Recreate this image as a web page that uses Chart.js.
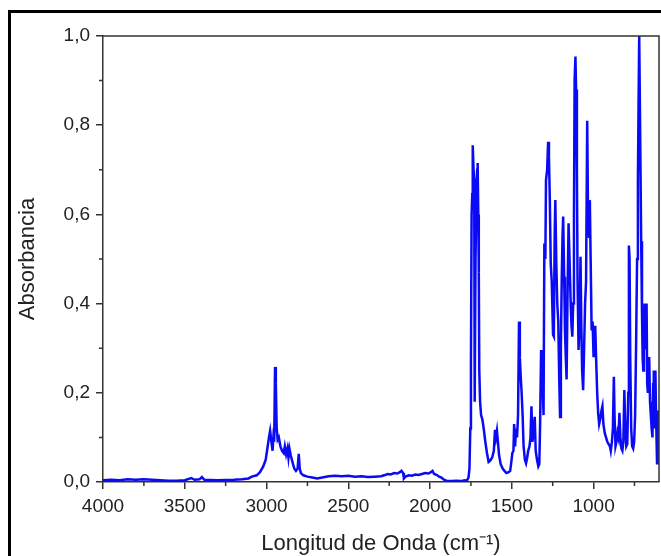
<!DOCTYPE html>
<html lang="es">

<head>
  <meta charset="UTF-8" />
  <title>Espectro FTIR - Absorbancia</title>
  <script src="https://cdn.jsdelivr.net/npm/chart.js"></script>
  <style>
    html,
    body {
      margin: 0;
      padding: 0;
      background: #fff;
      overflow: hidden;
    }

    #wrap {
      position: relative;
      width: 661px;
      height: 556px;
    }

    #spectrum {
      position: absolute;
      left: 0;
      top: 0;
    }

    /* outer frame of the figure, cut off on the right and bottom */
    .frame {
      position: absolute;
      left: 8px;
      top: 10px;
      width: 700px;
      height: 600px;
      border-left: 3px solid #000;
      border-top: 3px solid #000;
      pointer-events: none;
    }
  </style>
</head>

<body>
  <div id="wrap">
    <canvas id="spectrum" width="661" height="556"></canvas>
    <div class="frame"></div>
  </div>

  <script>
    // Wavenumber (cm-1) and absorbance
    const wavenumbers = [
      4000, 3950, 3900, 3850, 3800, 3750, 3700, 3650, 3600, 3550, 3500, 3460, 3440, 3410, 3395, 3380, 3300, 3200,
      3150, 3110, 3090, 3060, 3040, 3020, 3005, 2995, 2985, 2978, 2970, 2963, 2958, 2953, 2948, 2943, 2938, 2932,
      2925, 2915, 2905, 2895, 2888, 2880, 2872, 2866, 2860, 2852, 2845, 2838, 2830, 2820, 2810, 2803, 2797, 2790,
      2775, 2750, 2720, 2690, 2660, 2620, 2580, 2540, 2500, 2460, 2420, 2380, 2340, 2300, 2280, 2260, 2240, 2220,
      2200, 2185, 2175, 2165, 2160, 2150, 2130, 2110, 2090, 2070, 2050, 2030, 2010, 1995, 1985, 1975, 1960, 1945,
      1930, 1915, 1900, 1870, 1840, 1810, 1790, 1775, 1765, 1759, 1754, 1750, 1746, 1742, 1739, 1734, 1730, 1727,
      1722, 1716, 1712, 1709, 1705, 1702, 1699, 1694, 1688, 1680, 1672, 1662, 1652, 1642, 1632, 1620, 1610, 1603,
      1597, 1591, 1585, 1578, 1568, 1556, 1545, 1533, 1520, 1510, 1503, 1497, 1490, 1486, 1480, 1474, 1468, 1462,
      1456, 1451, 1446, 1440, 1434, 1428, 1420, 1413, 1406, 1400, 1392, 1386, 1380, 1374, 1368, 1360, 1354, 1346,
      1338, 1332, 1327, 1321, 1316, 1311, 1306, 1301, 1295, 1291, 1284, 1278, 1273, 1268, 1262, 1256, 1248, 1243,
      1238, 1234, 1228, 1222, 1216, 1210, 1205, 1200, 1195, 1190, 1186, 1180, 1175, 1170, 1165, 1160, 1153, 1147,
      1140, 1135, 1130, 1125, 1120, 1116, 1111, 1107, 1102, 1098, 1092, 1086, 1080, 1075, 1070, 1064, 1058, 1052,
      1046, 1039, 1034, 1028, 1023, 1018, 1012, 1006, 1000, 995, 990, 984, 978, 972, 966, 960, 952, 946,
      940, 932, 924, 916, 908, 900, 895, 888, 882, 876, 872, 866, 860, 854, 848, 842, 836, 830,
      824, 818, 812, 806, 800, 794, 788, 784, 780, 776, 770, 764, 758, 752, 746, 740, 734, 729,
      725, 721, 717, 713, 709, 704, 700, 696, 692, 688, 684, 680, 676, 672, 668, 664, 660, 655,
      650, 645, 640, 636, 632, 628, 622, 618, 612, 608, 605, 602, 600
    ];
    const absorbance = [
      0.004, 0.005, 0.004, 0.006, 0.005, 0.006, 0.005, 0.004, 0.003, 0.003, 0.004, 0.009, 0.005, 0.006, 0.011, 0.005, 0.004, 0.005,
      0.006, 0.008, 0.012, 0.015, 0.022, 0.035, 0.05, 0.075, 0.10, 0.115, 0.09, 0.07, 0.10, 0.09, 0.258, 0.22, 0.12, 0.095,
      0.10, 0.08, 0.07, 0.065, 0.08, 0.062, 0.075, 0.055, 0.075, 0.06, 0.05, 0.04, 0.03, 0.025, 0.03, 0.063, 0.03, 0.02,
      0.015, 0.012, 0.01, 0.008, 0.01, 0.013, 0.014, 0.013, 0.014, 0.012, 0.013, 0.011, 0.012, 0.013, 0.015, 0.018, 0.017, 0.02,
      0.019, 0.022, 0.025, 0.02, 0.008, 0.012, 0.015, 0.014, 0.017, 0.016, 0.018, 0.02, 0.019, 0.022, 0.025, 0.018, 0.016, 0.012,
      0.01, 0.005, 0.003, 0.002, 0.003, 0.002, 0.004, 0.003, 0.01, 0.03, 0.12, 0.27, 0.6, 0.645, 0.755, 0.70, 0.68, 0.18,
      0.5, 0.65, 0.70, 0.715, 0.6, 0.47, 0.25, 0.18, 0.15, 0.14, 0.12, 0.09, 0.065, 0.045, 0.048, 0.055, 0.07, 0.117,
      0.10, 0.115, 0.09, 0.06, 0.04, 0.03, 0.025, 0.02, 0.022, 0.025, 0.045, 0.065, 0.07, 0.13, 0.08, 0.12, 0.10, 0.15,
      0.36, 0.28, 0.24, 0.20, 0.15, 0.08, 0.05, 0.042, 0.055, 0.07, 0.08, 0.10, 0.17, 0.09, 0.11, 0.146, 0.07, 0.05,
      0.035, 0.04, 0.13, 0.296, 0.2, 0.21, 0.15, 0.535, 0.5, 0.677, 0.70, 0.763, 0.73, 0.64, 0.49, 0.45, 0.33, 0.326,
      0.55, 0.632, 0.49, 0.40, 0.36, 0.23, 0.146, 0.30, 0.45, 0.55, 0.595, 0.46, 0.34, 0.28, 0.23, 0.40, 0.58, 0.50,
      0.40, 0.35, 0.326, 0.40, 0.60, 0.90, 0.954, 0.88, 0.70, 0.45, 0.296, 0.35, 0.505, 0.35, 0.25, 0.206, 0.30, 0.40,
      0.45, 0.81, 0.60, 0.55, 0.632, 0.50, 0.34, 0.36, 0.28, 0.33, 0.35, 0.27, 0.20, 0.154, 0.13, 0.14, 0.16, 0.17,
      0.13, 0.11, 0.10, 0.09, 0.085, 0.08, 0.07, 0.09, 0.12, 0.236, 0.15, 0.08, 0.09, 0.11, 0.10, 0.155, 0.10, 0.075,
      0.07, 0.09, 0.206, 0.12, 0.08, 0.085, 0.20, 0.53, 0.50, 0.28, 0.12, 0.08, 0.075, 0.09, 0.15, 0.31, 0.50, 0.677,
      0.85, 1.0, 1.0, 0.70, 0.54, 0.38, 0.28, 0.25, 0.32, 0.40, 0.30, 0.35, 0.40, 0.22, 0.20, 0.25, 0.28, 0.18,
      0.15, 0.12, 0.10, 0.22, 0.25, 0.12, 0.25, 0.15, 0.042, 0.10, 0.16, 0.08, 0.07
    ];

    // axis ticks
    const xMajorTicks = [1000, 1500, 2000, 2500, 3000, 3500, 4000];
    const xMinorTicks = [750, 1250, 1750, 2250, 2750, 3250, 3750];
    const yMajorTicks = [0, 0.2, 0.4, 0.6, 0.8, 1.0];
    const yMinorTicks = [0.1, 0.3, 0.5, 0.7, 0.9];

    const axisColor = '#333';
    const fontFamily = "'Liberation Sans', Arial, sans-serif";

    // plot box (top + right edges) and the short minor ticks
    const frameAndMinorTicks = {
      id: 'frameAndMinorTicks',
      afterDraw(chart) {
        const { ctx, chartArea } = chart;
        const xs = chart.scales.x;
        const ys = chart.scales.y;
        ctx.save();
        ctx.strokeStyle = axisColor;
        ctx.lineWidth = 1.5;
        ctx.beginPath();
        ctx.moveTo(chartArea.left, chartArea.top);
        ctx.lineTo(chartArea.right, chartArea.top);
        ctx.lineTo(chartArea.right, chartArea.bottom);
        ctx.stroke();

        ctx.beginPath();
        xMinorTicks.forEach(v => {
          const px = xs.getPixelForValue(v);
          ctx.moveTo(px, chartArea.bottom);
          ctx.lineTo(px, chartArea.bottom + 4);
        });
        yMinorTicks.forEach(v => {
          const py = ys.getPixelForValue(v);
          ctx.moveTo(chartArea.left, py);
          ctx.lineTo(chartArea.left - 4, py);
        });
        ctx.stroke();
        ctx.restore();
      }
    };

    const points = wavenumbers.map((w, i) => ({ x: w, y: absorbance[i] }));

    new Chart(document.getElementById('spectrum'), {
      type: 'line',
      data: {
        datasets: [{
          data: points,
          borderColor: '#0a0af5',
          borderWidth: 2.5,
          pointRadius: 0,
          tension: 0,
          fill: false
        }]
      },
      options: {
        responsive: false,
        animation: false,
        events: [],
        layout: { padding: { top: 36, right: 2, left: 0, bottom: 0 } },
        plugins: {
          legend: { display: false },
          tooltip: { enabled: false }
        },
        scales: {
          x: {
            type: 'linear',
            reverse: true,
            min: 600,
            max: 4000,
            afterFit: s => { s.height = 74; },
            afterBuildTicks: s => { s.ticks = xMajorTicks.map(v => ({ value: v })); },
            border: { display: true, color: axisColor, width: 1.5 },
            grid: { drawOnChartArea: false, tickLength: 7, color: axisColor, lineWidth: 1.5 },
            ticks: {
              color: '#222',
              padding: 6,
              maxRotation: 0,
              font: { family: fontFamily, size: 19 },
              callback: v => String(v)
            },
            title: {
              display: true,
              text: 'Longitud de Onda (cm⁻¹)',
              color: '#222',
              padding: { top: 0, bottom: 1 },
              font: { family: fontFamily, size: 22, lineHeight: 1 }
            }
          },
          y: {
            min: 0,
            max: 1,
            afterFit: s => { s.width = 103; },
            afterBuildTicks: s => { s.ticks = yMajorTicks.map(v => ({ value: v })); },
            border: { display: true, color: axisColor, width: 1.5 },
            grid: { drawOnChartArea: false, tickLength: 7, color: axisColor, lineWidth: 1.5 },
            ticks: {
              color: '#222',
              padding: 6,
              font: { family: fontFamily, size: 19 },
              callback: v => v.toFixed(1).replace('.', ',')
            },
            title: {
              display: true,
              text: 'Absorbancia',
              color: '#222',
              padding: { top: 15, bottom: 0 },
              font: { family: fontFamily, size: 22, lineHeight: 1.2 }
            }
          }
        }
      },
      plugins: [frameAndMinorTicks]
    });
  </script>
</body>

</html>
